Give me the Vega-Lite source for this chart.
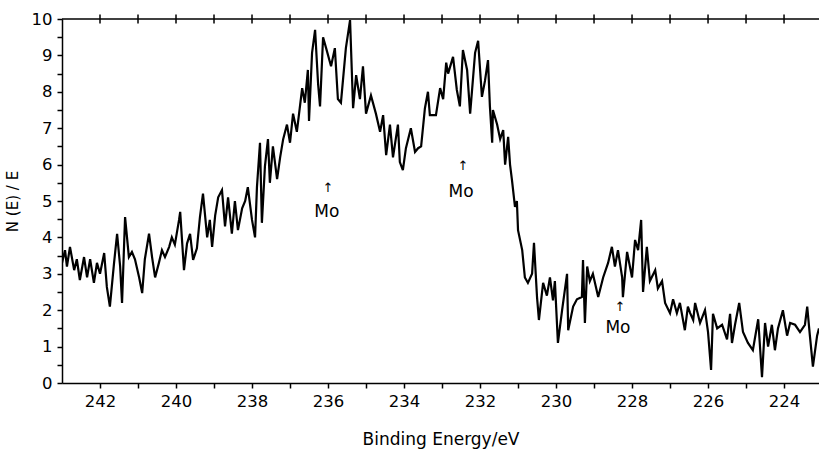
{
  "$schema": "https://vega.github.io/schema/vega-lite/v6.json",
  "width": 757,
  "height": 364,
  "autosize": {"type": "none"},
  "padding": {"left": 62, "top": 19, "right": 0, "bottom": 67},
  "background": "white",
  "config": {
    "view": {"stroke": null},
    "font": "DejaVu Sans",
    "axis": {
      "domain": true,
      "domainColor": "black",
      "domainWidth": 1.5,
      "grid": false,
      "ticks": true,
      "tickColor": "black",
      "tickWidth": 1.5,
      "tickSize": 5,
      "labelColor": "black",
      "labelFont": "DejaVu Sans",
      "labelFontSize": 16.5,
      "titleFont": "DejaVu Sans",
      "titleFontSize": 17,
      "titleFontWeight": "normal",
      "titleColor": "black"
    }
  },
  "datasets": {
    "spectrum": [
      {"energy": 243.00, "value": 3.3}, {"energy": 242.92, "value": 3.65}, {"energy": 242.87, "value": 3.2}, {"energy": 242.79, "value": 3.74},
      {"energy": 242.68, "value": 3.1}, {"energy": 242.61, "value": 3.4}, {"energy": 242.53, "value": 2.83}, {"energy": 242.42, "value": 3.46},
      {"energy": 242.34, "value": 2.9}, {"energy": 242.26, "value": 3.4}, {"energy": 242.16, "value": 2.75}, {"energy": 242.08, "value": 3.3},
      {"energy": 242.00, "value": 3.0}, {"energy": 241.89, "value": 3.57}, {"energy": 241.82, "value": 2.64}, {"energy": 241.74, "value": 2.1},
      {"energy": 241.63, "value": 3.3}, {"energy": 241.55, "value": 4.1}, {"energy": 241.47, "value": 3.2}, {"energy": 241.42, "value": 2.2},
      {"energy": 241.34, "value": 4.56}, {"energy": 241.24, "value": 3.46}, {"energy": 241.16, "value": 3.6}, {"energy": 241.08, "value": 3.4},
      {"energy": 240.97, "value": 2.9}, {"energy": 240.89, "value": 2.47}, {"energy": 240.82, "value": 3.4}, {"energy": 240.71, "value": 4.1},
      {"energy": 240.63, "value": 3.46}, {"energy": 240.55, "value": 2.9}, {"energy": 240.45, "value": 3.3}, {"energy": 240.37, "value": 3.65},
      {"energy": 240.29, "value": 3.46}, {"energy": 240.18, "value": 3.74}, {"energy": 240.11, "value": 4.0}, {"energy": 240.03, "value": 3.8},
      {"energy": 239.92, "value": 4.48}, {"energy": 239.89, "value": 4.7}, {"energy": 239.79, "value": 3.1}, {"energy": 239.71, "value": 3.83},
      {"energy": 239.63, "value": 4.1}, {"energy": 239.55, "value": 3.38}, {"energy": 239.45, "value": 3.7}, {"energy": 239.37, "value": 4.56},
      {"energy": 239.29, "value": 5.2}, {"energy": 239.18, "value": 4.0}, {"energy": 239.11, "value": 4.48}, {"energy": 239.05, "value": 3.74},
      {"energy": 238.97, "value": 4.6}, {"energy": 238.89, "value": 5.1}, {"energy": 238.79, "value": 5.3}, {"energy": 238.71, "value": 4.3},
      {"energy": 238.63, "value": 5.1}, {"energy": 238.53, "value": 4.1}, {"energy": 238.45, "value": 5.0}, {"energy": 238.37, "value": 4.2},
      {"energy": 238.26, "value": 4.8}, {"energy": 238.18, "value": 5.0}, {"energy": 238.11, "value": 5.38}, {"energy": 238.00, "value": 4.48},
      {"energy": 237.92, "value": 4.0}, {"energy": 237.87, "value": 5.38}, {"energy": 237.79, "value": 6.6}, {"energy": 237.74, "value": 4.4},
      {"energy": 237.66, "value": 5.95}, {"energy": 237.58, "value": 6.7}, {"energy": 237.53, "value": 5.5}, {"energy": 237.45, "value": 6.5},
      {"energy": 237.34, "value": 5.6}, {"energy": 237.26, "value": 6.2}, {"energy": 237.18, "value": 6.7}, {"energy": 237.08, "value": 7.1},
      {"energy": 237.00, "value": 6.6}, {"energy": 236.92, "value": 7.4}, {"energy": 236.82, "value": 6.9}, {"energy": 236.68, "value": 8.1},
      {"energy": 236.61, "value": 7.7}, {"energy": 236.53, "value": 8.6}, {"energy": 236.50, "value": 7.2}, {"energy": 236.42, "value": 9.07},
      {"energy": 236.34, "value": 9.7}, {"energy": 236.26, "value": 8.2}, {"energy": 236.21, "value": 7.6}, {"energy": 236.13, "value": 9.5},
      {"energy": 236.05, "value": 9.2}, {"energy": 235.92, "value": 8.7}, {"energy": 235.82, "value": 9.2}, {"energy": 235.74, "value": 7.8},
      {"energy": 235.66, "value": 7.7}, {"energy": 235.53, "value": 9.2}, {"energy": 235.42, "value": 9.97}, {"energy": 235.34, "value": 7.55},
      {"energy": 235.26, "value": 8.46}, {"energy": 235.16, "value": 7.8}, {"energy": 235.08, "value": 8.7}, {"energy": 235.00, "value": 7.4},
      {"energy": 234.87, "value": 7.9}, {"energy": 234.74, "value": 7.4}, {"energy": 234.63, "value": 6.9}, {"energy": 234.55, "value": 7.36},
      {"energy": 234.47, "value": 6.26}, {"energy": 234.37, "value": 7.1}, {"energy": 234.29, "value": 6.2}, {"energy": 234.16, "value": 7.1},
      {"energy": 234.11, "value": 6.07}, {"energy": 234.03, "value": 5.85}, {"energy": 233.95, "value": 6.45}, {"energy": 233.82, "value": 7.0},
      {"energy": 233.71, "value": 6.35}, {"energy": 233.63, "value": 6.45}, {"energy": 233.55, "value": 6.5}, {"energy": 233.45, "value": 7.55},
      {"energy": 233.37, "value": 8.0}, {"energy": 233.32, "value": 7.36}, {"energy": 233.16, "value": 7.36}, {"energy": 233.05, "value": 8.1},
      {"energy": 232.97, "value": 7.8}, {"energy": 232.89, "value": 8.8}, {"energy": 232.84, "value": 8.5}, {"energy": 232.71, "value": 8.96},
      {"energy": 232.61, "value": 8.05}, {"energy": 232.53, "value": 7.6}, {"energy": 232.45, "value": 9.15}, {"energy": 232.34, "value": 8.6},
      {"energy": 232.26, "value": 7.4}, {"energy": 232.13, "value": 9.07}, {"energy": 232.05, "value": 9.4}, {"energy": 231.95, "value": 7.86},
      {"energy": 231.87, "value": 8.3}, {"energy": 231.79, "value": 8.87}, {"energy": 231.74, "value": 7.6}, {"energy": 231.68, "value": 6.6},
      {"energy": 231.66, "value": 7.5}, {"energy": 231.55, "value": 7.1}, {"energy": 231.47, "value": 6.7}, {"energy": 231.39, "value": 6.95},
      {"energy": 231.34, "value": 6.0}, {"energy": 231.26, "value": 6.76}, {"energy": 231.21, "value": 6.0}, {"energy": 231.16, "value": 5.58},
      {"energy": 231.08, "value": 4.84}, {"energy": 231.03, "value": 5.0}, {"energy": 231.00, "value": 4.2}, {"energy": 230.89, "value": 3.65},
      {"energy": 230.82, "value": 2.9}, {"energy": 230.74, "value": 2.75}, {"energy": 230.63, "value": 3.0}, {"energy": 230.58, "value": 3.85},
      {"energy": 230.50, "value": 2.36}, {"energy": 230.45, "value": 1.73}, {"energy": 230.34, "value": 2.75}, {"energy": 230.24, "value": 2.4},
      {"energy": 230.16, "value": 2.9}, {"energy": 230.08, "value": 2.27}, {"energy": 230.03, "value": 2.8}, {"energy": 229.95, "value": 1.1},
      {"energy": 229.84, "value": 2.0}, {"energy": 229.71, "value": 3.0}, {"energy": 229.68, "value": 1.45}, {"energy": 229.55, "value": 2.1},
      {"energy": 229.45, "value": 2.3}, {"energy": 229.32, "value": 2.36}, {"energy": 229.29, "value": 3.38}, {"energy": 229.24, "value": 1.65},
      {"energy": 229.18, "value": 3.2}, {"energy": 229.11, "value": 2.8}, {"energy": 229.03, "value": 3.0}, {"energy": 228.89, "value": 2.36},
      {"energy": 228.76, "value": 2.9}, {"energy": 228.63, "value": 3.3}, {"energy": 228.53, "value": 3.74}, {"energy": 228.45, "value": 3.2},
      {"energy": 228.37, "value": 3.65}, {"energy": 228.26, "value": 2.9}, {"energy": 228.24, "value": 2.36}, {"energy": 228.13, "value": 3.6},
      {"energy": 228.00, "value": 2.9}, {"energy": 227.92, "value": 3.93}, {"energy": 227.84, "value": 3.65}, {"energy": 227.76, "value": 4.48},
      {"energy": 227.71, "value": 2.5}, {"energy": 227.61, "value": 3.74}, {"energy": 227.53, "value": 2.8}, {"energy": 227.39, "value": 3.1},
      {"energy": 227.32, "value": 2.6}, {"energy": 227.21, "value": 2.8}, {"energy": 227.13, "value": 2.2}, {"energy": 227.00, "value": 1.92},
      {"energy": 226.92, "value": 2.3}, {"energy": 226.82, "value": 1.92}, {"energy": 226.74, "value": 2.2}, {"energy": 226.61, "value": 1.45},
      {"energy": 226.53, "value": 2.1}, {"energy": 226.47, "value": 1.92}, {"energy": 226.39, "value": 1.73}, {"energy": 226.34, "value": 2.2},
      {"energy": 226.21, "value": 1.65}, {"energy": 226.08, "value": 2.0}, {"energy": 226.00, "value": 1.4}, {"energy": 225.92, "value": 0.36},
      {"energy": 225.87, "value": 1.9}, {"energy": 225.76, "value": 1.5}, {"energy": 225.63, "value": 1.6}, {"energy": 225.50, "value": 1.2},
      {"energy": 225.42, "value": 1.9}, {"energy": 225.37, "value": 1.1}, {"energy": 225.29, "value": 1.6}, {"energy": 225.18, "value": 2.2},
      {"energy": 225.08, "value": 1.4}, {"energy": 224.95, "value": 1.1}, {"energy": 224.82, "value": 0.9}, {"energy": 224.68, "value": 1.75},
      {"energy": 224.58, "value": 0.16}, {"energy": 224.50, "value": 1.65}, {"energy": 224.42, "value": 1.0}, {"energy": 224.32, "value": 1.6},
      {"energy": 224.24, "value": 0.9}, {"energy": 224.16, "value": 1.5}, {"energy": 224.03, "value": 2.0}, {"energy": 223.92, "value": 1.3},
      {"energy": 223.84, "value": 1.65}, {"energy": 223.71, "value": 1.6}, {"energy": 223.58, "value": 1.4}, {"energy": 223.45, "value": 1.6},
      {"energy": 223.39, "value": 2.1}, {"energy": 223.32, "value": 1.3}, {"energy": 223.24, "value": 0.45}, {"energy": 223.13, "value": 1.3},
      {"energy": 223.08, "value": 1.5}
    ],
    "notes": [
      {"energy": 236.03, "value": 4.70, "label": "Mo", "kind": "label"},
      {"energy": 236.0, "value": 5.35, "label": "↑", "kind": "arrow"},
      {"energy": 232.5, "value": 5.25, "label": "Mo", "kind": "label"},
      {"energy": 232.45, "value": 5.97, "label": "↑", "kind": "arrow"},
      {"energy": 228.37, "value": 1.51, "label": "Mo", "kind": "label"},
      {"energy": 228.32, "value": 2.08, "label": "↑", "kind": "arrow"}
    ],
    "topticks": [
      {"energy": 224}, {"energy": 225}, {"energy": 226}, {"energy": 227}, {"energy": 228}, {"energy": 229}, {"energy": 230},
      {"energy": 231}, {"energy": 232}, {"energy": 233}, {"energy": 234}, {"energy": 235}, {"energy": 236}, {"energy": 237},
      {"energy": 238}, {"energy": 239}, {"energy": 240}, {"energy": 241}, {"energy": 242}
    ],
    "frame": [
      {"energy": 243, "value": 10},
      {"energy": 223.08, "value": 10}
    ]
  },
  "layer": [
    {
      "data": {"name": "spectrum"},
      "mark": {"type": "line", "color": "black", "strokeWidth": 2.2, "clip": true},
      "encoding": {
        "x": {
          "field": "energy", "type": "quantitative",
          "scale": {"domain": [243, 223.08], "nice": false, "zero": false},
          "axis": {
            "orient": "bottom",
            "values": [224, 225, 226, 227, 228, 229, 230, 231, 232, 233, 234, 235, 236, 237, 238, 239, 240, 241, 242],
            "labelExpr": "datum.value % 2 === 0 ? datum.label : ''",
            "labelPadding": 5,
            "title": "Binding Energy/eV",
            "titlePadding": 22
          }
        },
        "y": {
          "field": "value", "type": "quantitative",
          "scale": {"domain": [0, 10], "nice": false, "zero": true},
          "axis": {
            "values": [0, 0.5, 1, 1.5, 2, 2.5, 3, 3.5, 4, 4.5, 5, 5.5, 6, 6.5, 7, 7.5, 8, 8.5, 9, 9.5, 10],
            "labelExpr": "datum.value % 1 === 0 ? format(datum.value, 'd') : ''",
            "labelPadding": 5,
            "title": "N (E) / E",
            "titleFontSize": 15,
            "titlePadding": 11
          }
        }
      }
    },
    {
      "data": {"name": "frame"},
      "mark": {"type": "line", "color": "black", "strokeWidth": 1.5},
      "encoding": {
        "x": {
          "field": "energy", "type": "quantitative",
          "scale": {"domain": [243, 223.08], "nice": false, "zero": false},
          "axis": {
            "orient": "bottom",
            "values": [224, 225, 226, 227, 228, 229, 230, 231, 232, 233, 234, 235, 236, 237, 238, 239, 240, 241, 242],
            "labelExpr": "datum.value % 2 === 0 ? datum.label : ''",
            "labelPadding": 5,
            "title": "Binding Energy/eV",
            "titlePadding": 22
          }
        },
        "y": {
          "field": "value", "type": "quantitative",
          "scale": {"domain": [0, 10], "nice": false, "zero": true},
          "axis": {
            "values": [0, 0.5, 1, 1.5, 2, 2.5, 3, 3.5, 4, 4.5, 5, 5.5, 6, 6.5, 7, 7.5, 8, 8.5, 9, 9.5, 10],
            "labelExpr": "datum.value % 1 === 0 ? format(datum.value, 'd') : ''",
            "labelPadding": 5,
            "title": "N (E) / E",
            "titleFontSize": 15,
            "titlePadding": 11
          }
        }
      }
    },
    {
      "data": {"name": "notes"},
      "mark": {"type": "text", "color": "black", "font": "DejaVu Sans", "align": "center", "baseline": "middle"},
      "encoding": {
        "x": {
          "field": "energy", "type": "quantitative",
          "scale": {"domain": [243, 223.08], "nice": false, "zero": false},
          "axis": {
            "orient": "bottom",
            "values": [224, 225, 226, 227, 228, 229, 230, 231, 232, 233, 234, 235, 236, 237, 238, 239, 240, 241, 242],
            "labelExpr": "datum.value % 2 === 0 ? datum.label : ''",
            "labelPadding": 5,
            "title": "Binding Energy/eV",
            "titlePadding": 22
          }
        },
        "y": {
          "field": "value", "type": "quantitative",
          "scale": {"domain": [0, 10], "nice": false, "zero": true},
          "axis": {
            "values": [0, 0.5, 1, 1.5, 2, 2.5, 3, 3.5, 4, 4.5, 5, 5.5, 6, 6.5, 7, 7.5, 8, 8.5, 9, 9.5, 10],
            "labelExpr": "datum.value % 1 === 0 ? format(datum.value, 'd') : ''",
            "labelPadding": 5,
            "title": "N (E) / E",
            "titleFontSize": 15,
            "titlePadding": 11
          }
        },
        "text": {"field": "label"},
        "size": {"field": "kind", "type": "nominal", "scale": {"domain": ["label", "arrow"], "range": [17, 13]}, "legend": null}
      }
    },
    {
      "data": {"name": "topticks"},
      "mark": {"type": "tick", "orient": "vertical", "color": "black", "size": 9, "thickness": 1.5, "opacity": 1},
      "encoding": {
        "x": {
          "field": "energy", "type": "quantitative",
          "scale": {"domain": [243, 223.08], "nice": false, "zero": false},
          "axis": {
            "orient": "bottom",
            "values": [224, 225, 226, 227, 228, 229, 230, 231, 232, 233, 234, 235, 236, 237, 238, 239, 240, 241, 242],
            "labelExpr": "datum.value % 2 === 0 ? datum.label : ''",
            "labelPadding": 5,
            "title": "Binding Energy/eV",
            "titlePadding": 22
          }
        },
        "y": {
          "datum": 10, "type": "quantitative",
          "scale": {"domain": [0, 10], "nice": false, "zero": true},
          "axis": {
            "values": [0, 0.5, 1, 1.5, 2, 2.5, 3, 3.5, 4, 4.5, 5, 5.5, 6, 6.5, 7, 7.5, 8, 8.5, 9, 9.5, 10],
            "labelExpr": "datum.value % 1 === 0 ? format(datum.value, 'd') : ''",
            "labelPadding": 5,
            "title": "N (E) / E",
            "titleFontSize": 15,
            "titlePadding": 11
          }
        }
      }
    }
  ]
}
